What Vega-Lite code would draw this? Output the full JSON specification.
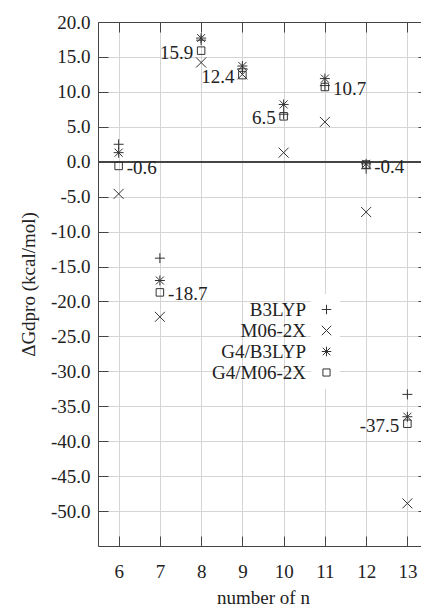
{
  "$schema": "https://vega.github.io/schema/vega-lite/v6.json",
  "autosize": {"type": "none"},
  "width": 330,
  "height": 524,
  "padding": {"left": 98, "top": 22, "right": 0, "bottom": 58},
  "background": "white",
  "config": {
    "view": {"stroke": null},
    "font": "Liberation Serif, DejaVu Serif, serif",
    "locale": {
      "number": {"decimal": ".", "thousands": ",", "grouping": [3], "currency": ["$", ""], "minus": "-"}
    },
    "axis": {
      "labelFont": "Liberation Serif, DejaVu Serif, serif",
      "labelFontSize": 19,
      "labelColor": "#222",
      "titleFont": "Liberation Serif, DejaVu Serif, serif",
      "titleFontSize": 19,
      "titleFontWeight": "normal",
      "titleColor": "#222",
      "domainColor": "#444",
      "tickColor": "#444",
      "tickSize": -10,
      "gridColor": "#d4d4d4",
      "gridWidth": 1
    },
    "legend": {
      "labelFont": "Liberation Serif, DejaVu Serif, serif",
      "labelFontSize": 19,
      "labelColor": "#222"
    }
  },
  "datasets": {
    "energies": [
      {"n": 6, "method": "B3LYP", "dG": 2.5},
      {"n": 6, "method": "M06-2X", "dG": -4.6},
      {"n": 6, "method": "G4/B3LYP", "dG": 1.3},
      {"n": 6, "method": "G4/M06-2X", "dG": -0.6},
      {"n": 7, "method": "B3LYP", "dG": -13.8},
      {"n": 7, "method": "M06-2X", "dG": -22.2},
      {"n": 7, "method": "G4/B3LYP", "dG": -17.0},
      {"n": 7, "method": "G4/M06-2X", "dG": -18.7},
      {"n": 8, "method": "B3LYP", "dG": 17.4},
      {"n": 8, "method": "M06-2X", "dG": 14.2},
      {"n": 8, "method": "G4/B3LYP", "dG": 17.7},
      {"n": 8, "method": "G4/M06-2X", "dG": 15.9},
      {"n": 9, "method": "B3LYP", "dG": 13.3},
      {"n": 9, "method": "M06-2X", "dG": 12.5},
      {"n": 9, "method": "G4/B3LYP", "dG": 13.7},
      {"n": 9, "method": "G4/M06-2X", "dG": 12.4},
      {"n": 10, "method": "B3LYP", "dG": 6.8},
      {"n": 10, "method": "M06-2X", "dG": 1.3},
      {"n": 10, "method": "G4/B3LYP", "dG": 8.2},
      {"n": 10, "method": "G4/M06-2X", "dG": 6.5},
      {"n": 11, "method": "B3LYP", "dG": 10.9},
      {"n": 11, "method": "M06-2X", "dG": 5.7},
      {"n": 11, "method": "G4/B3LYP", "dG": 11.9},
      {"n": 11, "method": "G4/M06-2X", "dG": 10.7},
      {"n": 12, "method": "B3LYP", "dG": -1.0},
      {"n": 12, "method": "M06-2X", "dG": -7.2},
      {"n": 12, "method": "G4/B3LYP", "dG": -0.3},
      {"n": 12, "method": "G4/M06-2X", "dG": -0.4},
      {"n": 13, "method": "B3LYP", "dG": -33.3},
      {"n": 13, "method": "M06-2X", "dG": -48.9},
      {"n": 13, "method": "G4/B3LYP", "dG": -36.5},
      {"n": 13, "method": "G4/M06-2X", "dG": -37.5}
    ]
  },
  "data": {"name": "energies"},
  "resolve": {"axis": {"x": "independent", "y": "independent"}},
  "layer": [
    {
      "mark": {"type": "rule", "color": "#444", "strokeWidth": 1.2},
      "encoding": {
        "y": {"datum": 0, "type": "quantitative",
              "scale": {"domain": [-55, 20], "nice": false, "zero": false},
              "axis": null}
      }
    },
    {
      "mark": {"type": "point", "filled": false, "stroke": "#333", "strokeWidth": 1, "size": 100, "opacity": 1},
      "encoding": {
        "x": {
          "field": "n", "type": "quantitative",
          "scale": {"domain": [5.5, 13.5], "nice": false, "zero": false},
          "axis": {
            "orient": "bottom",
            "values": [6, 7, 8, 9, 10, 11, 12, 13],
            "grid": true,
            "title": "number of n",
            "labelPadding": 26,
            "titlePadding": 7
          }
        },
        "y": {
          "field": "dG", "type": "quantitative",
          "scale": {"domain": [-55, 20], "nice": false, "zero": false},
          "axis": {
            "orient": "left",
            "values": [-50, -45, -40, -35, -30, -25, -20, -15, -10, -5, 0, 5, 10, 15, 20],
            "format": ".1f",
            "grid": true,
            "title": "ΔGdpro (kcal/mol)",
            "labelPadding": 18,
            "titlePadding": 12
          }
        },
        "shape": {
          "field": "method", "type": "nominal",
          "scale": {
            "domain": ["B3LYP", "M06-2X", "G4/B3LYP", "G4/M06-2X"],
            "range": [
              "M-1,0H1M0,-1V1",
              "M-1,-1L1,1M-1,1L1,-1",
              "M-1,0H1M0,-1V1M-0.8,-0.8L0.8,0.8M-0.8,0.8L0.8,-0.8",
              "M-0.75,-0.75H0.75V0.75H-0.75Z"
            ]
          },
          "legend": {
            "title": null,
            "orient": "none",
            "legendX": 213,
            "legendY": 272,
            "padding": 6,
            "fillColor": "white",
            "symbolSize": 90,
            "symbolStrokeColor": "#333",
            "symbolStrokeWidth": 1,
            "symbolFillColor": "transparent",
            "labelAlign": "right",
            "labelOffset": -30,
            "rowPadding": 1
          }
        }
      }
    },
    {
      "transform": [
        {"filter": "datum.method === 'G4/M06-2X' && indexof([6, 7, 11, 12], datum.n) >= 0"}
      ],
      "mark": {"type": "text", "align": "left", "baseline": "middle", "dx": 8, "dy": 2, "fontSize": 19, "font": "Liberation Serif, DejaVu Serif, serif", "color": "#222"},
      "encoding": {
        "x": {"field": "n", "type": "quantitative", "scale": {"domain": [5.5, 13.5], "nice": false, "zero": false}, "axis": null},
        "y": {"field": "dG", "type": "quantitative", "scale": {"domain": [-55, 20], "nice": false, "zero": false}, "axis": null},
        "text": {"field": "dG", "type": "quantitative", "format": ".1f"}
      }
    },
    {
      "transform": [
        {"filter": "datum.method === 'G4/M06-2X' && indexof([8, 9, 10, 13], datum.n) >= 0"}
      ],
      "mark": {"type": "text", "align": "right", "baseline": "middle", "dx": -8, "dy": 2, "fontSize": 19, "font": "Liberation Serif, DejaVu Serif, serif", "color": "#222"},
      "encoding": {
        "x": {"field": "n", "type": "quantitative", "scale": {"domain": [5.5, 13.5], "nice": false, "zero": false}, "axis": null},
        "y": {"field": "dG", "type": "quantitative", "scale": {"domain": [-55, 20], "nice": false, "zero": false}, "axis": null},
        "text": {"field": "dG", "type": "quantitative", "format": ".1f"}
      }
    },
    {
      "mark": {"type": "point", "opacity": 0},
      "encoding": {
        "x": {
          "field": "n", "type": "quantitative",
          "scale": {"domain": [5.5, 13.5], "nice": false, "zero": false},
          "axis": {"orient": "top", "values": [6, 7, 8, 9, 10, 11, 12, 13], "labels": false, "title": null, "grid": false}
        },
        "y": {
          "field": "dG", "type": "quantitative",
          "scale": {"domain": [-55, 20], "nice": false, "zero": false},
          "axis": {"orient": "right", "values": [-50, -45, -40, -35, -30, -25, -20, -15, -10, -5, 0, 5, 10, 15, 20], "labels": false, "title": null, "grid": false}
        }
      }
    }
  ]
}
